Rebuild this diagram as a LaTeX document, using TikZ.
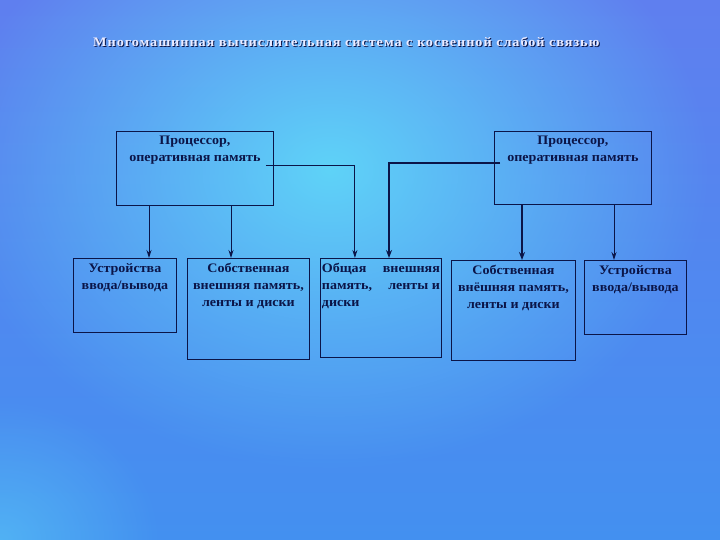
\documentclass[tikz,border=0pt]{standalone}
\usepackage{fontspec}
\setmainfont{Liberation Serif}
\newfontfamily\boxfont[FakeStretch=1.08]{Liberation Serif}
\newfontfamily\titlefont[FakeStretch=1.1,LetterSpace=7]{Liberation Serif}
\usetikzlibrary{arrows.meta,fadings,calc}
\definecolor{bgtop}{HTML}{5F7FEF}
\definecolor{bgbot}{HTML}{4390F0}
\definecolor{glow}{HTML}{5FD3F8}
\definecolor{ink}{HTML}{0B1548}
\tikzfading[name=softglow, inner color=transparent!0, outer color=transparent!100]
\begin{document}
\begin{tikzpicture}[x=1pt,y=-1pt,
  box/.style={draw=ink, line width=0.9pt, inner sep=0pt, anchor=north west},
  txt/.style={text=ink, font=\boxfont\bfseries\fontsize{13}{17}\selectfont, align=center, anchor=north, inner sep=0pt},
  thinarrow/.style={draw=ink, line width=0.9pt, -{Stealth[length=8pt,width=5pt]}},
  thickarrow/.style={draw=ink, line width=2.4pt, -{Stealth[length=8pt,width=6pt]}}
]
\useasboundingbox (0,0) rectangle (720,540);
\shade[top color=bgtop, bottom color=bgbot] (0,0) rectangle (720,540);
\fill[glow, path fading=softglow] (330,170) ellipse (380 and 300);
\fill[glow, path fading=softglow, opacity=0.5] (0,540) ellipse (160 and 140);

% title
\node[text=ink, font=\titlefont\bfseries\fontsize{13}{16}\selectfont, anchor=west, inner sep=0pt] (tsh) at (94,43) {Многомашинная вычислительная система с косвенной слабой связью};
\node[text=white!92!blue, font=\titlefont\bfseries\fontsize{13}{16}\selectfont, anchor=west, inner sep=0pt] (title) at (93,42) {Многомашинная вычислительная система с косвенной слабой связью};

% processors
\node[box, minimum width=157pt, minimum height=74pt] (p1) at (116,131) {};
\node[box, minimum width=157pt, minimum height=73pt] (p2) at (494,131) {};
\node[txt] (p1t) at ($(p1.north)+(0,5)$) {Процессор,\\оперативная память};
\node[txt] (p2t) at ($(p2.north)+(0,5)$) {Процессор,\\оперативная память};

% lower boxes
\node[box, minimum width=103pt, minimum height=74pt] (b1) at (73,258) {};
\node[box, minimum width=122pt, minimum height=101pt] (b2) at (187,258) {};
\node[box, minimum width=121pt, minimum height=99pt] (b3) at (320,258) {};
\node[box, minimum width=124pt, minimum height=100pt] (b4) at (451,260) {};
\node[box, minimum width=102pt, minimum height=74pt] (b5) at (584,260) {};

\node[txt] (b1t) at ($(b1.north)+(0,5)$) {Устройства\\ввода/вывода};
\node[txt] (b2t) at ($(b2.north)+(0,5)$) {Собственная\\внешняя память,\\ленты и диски};
\node[txt, align=left] (b3t) at ($(b3.north)+(0,5)$) {\hbox to 118pt{Общая\hfill внешняя}\\\hbox to 118pt{память,\hfill ленты и}\\диски};
\node[txt] (b4t) at ($(b4.north)+(0,5)$) {Собственная\\внёшняя память,\\ленты и диски};
\node[txt] (b5t) at ($(b5.north)+(0,5)$) {Устройства\\ввода/вывода};

% connectors
\draw[thinarrow] ($(p1.south west)+(33,0)$) coordinate (a1) -- (a1 |- b1.north);
\draw[thinarrow] ($(p1.south west)+(115,0)$) coordinate (a2) -- (a2 |- b2.north);
\draw[thinarrow] ($(p1.north east)+(-8,34)$) -- ++(89,0) coordinate (a3) -- (a3 |- b3.north);
\draw[thickarrow] ($(p2.north west)+(6,32)$) -- ++(-111,0) coordinate (a4) -- (a4 |- b3.north);
\draw[thickarrow] ($(p2.south west)+(28,0)$) coordinate (a5) -- (a5 |- b4.north);
\draw[thinarrow] ($(p2.south west)+(120,0)$) coordinate (a6) -- (a6 |- b5.north);
\end{tikzpicture}
\end{document}
